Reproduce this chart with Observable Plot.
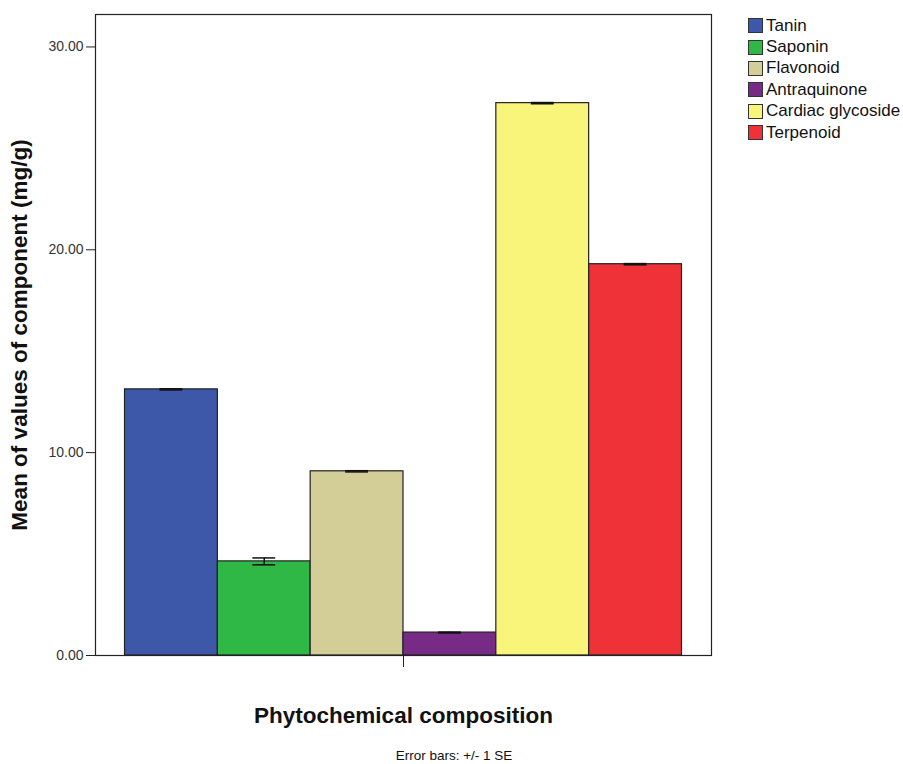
<!DOCTYPE html>
<html>
<head>
<meta charset="utf-8">
<script src="https://cdn.jsdelivr.net/npm/d3@7"></script>
<script src="https://cdn.jsdelivr.net/npm/@observablehq/plot@0.6"></script>
<style>
  body { margin: 0; background: #fff; font-family: "Liberation Sans", Arial, sans-serif; }
  #wrap { position: relative; width: 903px; height: 764px; }
  #legend { position: absolute; left: 748px; top: 15px; font-size: 17px; color: #111; }
  #legend .row { display: flex; align-items: center; height: 21.4px; white-space: nowrap; }
  #legend .sw { width: 13px; height: 13px; border: 1px solid #333; margin-right: 3px; box-sizing: content-box; }
  #caption { position: absolute; left: 0; width: 908px; text-align: center; top: 748px; font-size: 13.5px; color: #111; }
  svg [aria-label="y-axis label"] text, svg [aria-label="fx-axis label"] text { font-weight: bold; font-size: 22.5px; fill: #111; }
</style>
</head>
<body>
<div id="wrap">
  <div id="chart"></div>
  <div id="legend"></div>
  <div id="caption">Error bars: +/- 1 SE</div>
</div>
<script>
const components = ["Tanin", "Saponin", "Flavonoid", "Antraquinone", "Cardiac glycoside", "Terpenoid"];
const means = [13.12, 4.64, 9.08, 1.13, 27.23, 19.29];
const se = [0.03, 0.17, 0.03, 0.02, 0.03, 0.03];
const colors = ["#3d58a8", "#30b847", "#d3cd98", "#772b87", "#f9f47a", "#ee3237"];
const yTicks = [0, 10, 20, 30];
const groupLabel = " ";

const data = components.map((c, i) => ({component: c, mean: means[i], se: se[i], group: groupLabel}));

const chart = Plot.plot({
  width: 903,
  height: 764,
  marginTop: 14,
  marginBottom: 109,
  marginLeft: 95,
  marginRight: 192,
  style: {fontFamily: "Liberation Sans, Arial, sans-serif", fontSize: "14px", color: "#333"},
  fx: {domain: [groupLabel], padding: 0, round: false},
  x: {domain: components, paddingInner: 0, paddingOuter: 0.318, round: false, axis: null},
  y: {domain: [0, 31.6]},
  color: {domain: components, range: colors},
  marks: [
    Plot.axisY({ticks: yTicks, tickFormat: d => d.toFixed(2), tickSize: 9, tickPadding: 3,
      label: "Mean of values of component (mg/g)", labelArrow: "none", labelAnchor: "center", labelOffset: 84, stroke: "#222"}),
    Plot.axisFx({anchor: "bottom", tickSize: 12, tickFormat: () => "", label: "Phytochemical composition",
      labelArrow: "none", labelAnchor: "center", labelOffset: 67, stroke: "#222"}),
    Plot.barY(data, {fx: "group", x: "component", y: "mean", fill: "component", stroke: "#222", strokeWidth: 1.2}),
    Plot.ruleX(data, {fx: "group", x: "component", y1: d => d.mean - d.se, y2: d => d.mean + d.se, stroke: "#111", strokeWidth: 1.5}),
    Plot.tickY(data, {fx: "group", x: "component", y: d => d.mean - d.se, stroke: "#111", strokeWidth: 1.5, insetLeft: 35, insetRight: 35}),
    Plot.tickY(data, {fx: "group", x: "component", y: d => d.mean + d.se, stroke: "#111", strokeWidth: 1.5, insetLeft: 35, insetRight: 35}),
    Plot.frame({stroke: "#222", strokeWidth: 1.2})
  ]
});
document.getElementById("chart").appendChild(chart);

const legend = document.getElementById("legend");
components.forEach((c, i) => {
  const row = document.createElement("div");
  row.className = "row";
  const sw = document.createElement("span");
  sw.className = "sw";
  sw.style.background = colors[i];
  const t = document.createElement("span");
  t.textContent = c;
  row.appendChild(sw);
  row.appendChild(t);
  legend.appendChild(row);
});
</script>
</body>
</html>
